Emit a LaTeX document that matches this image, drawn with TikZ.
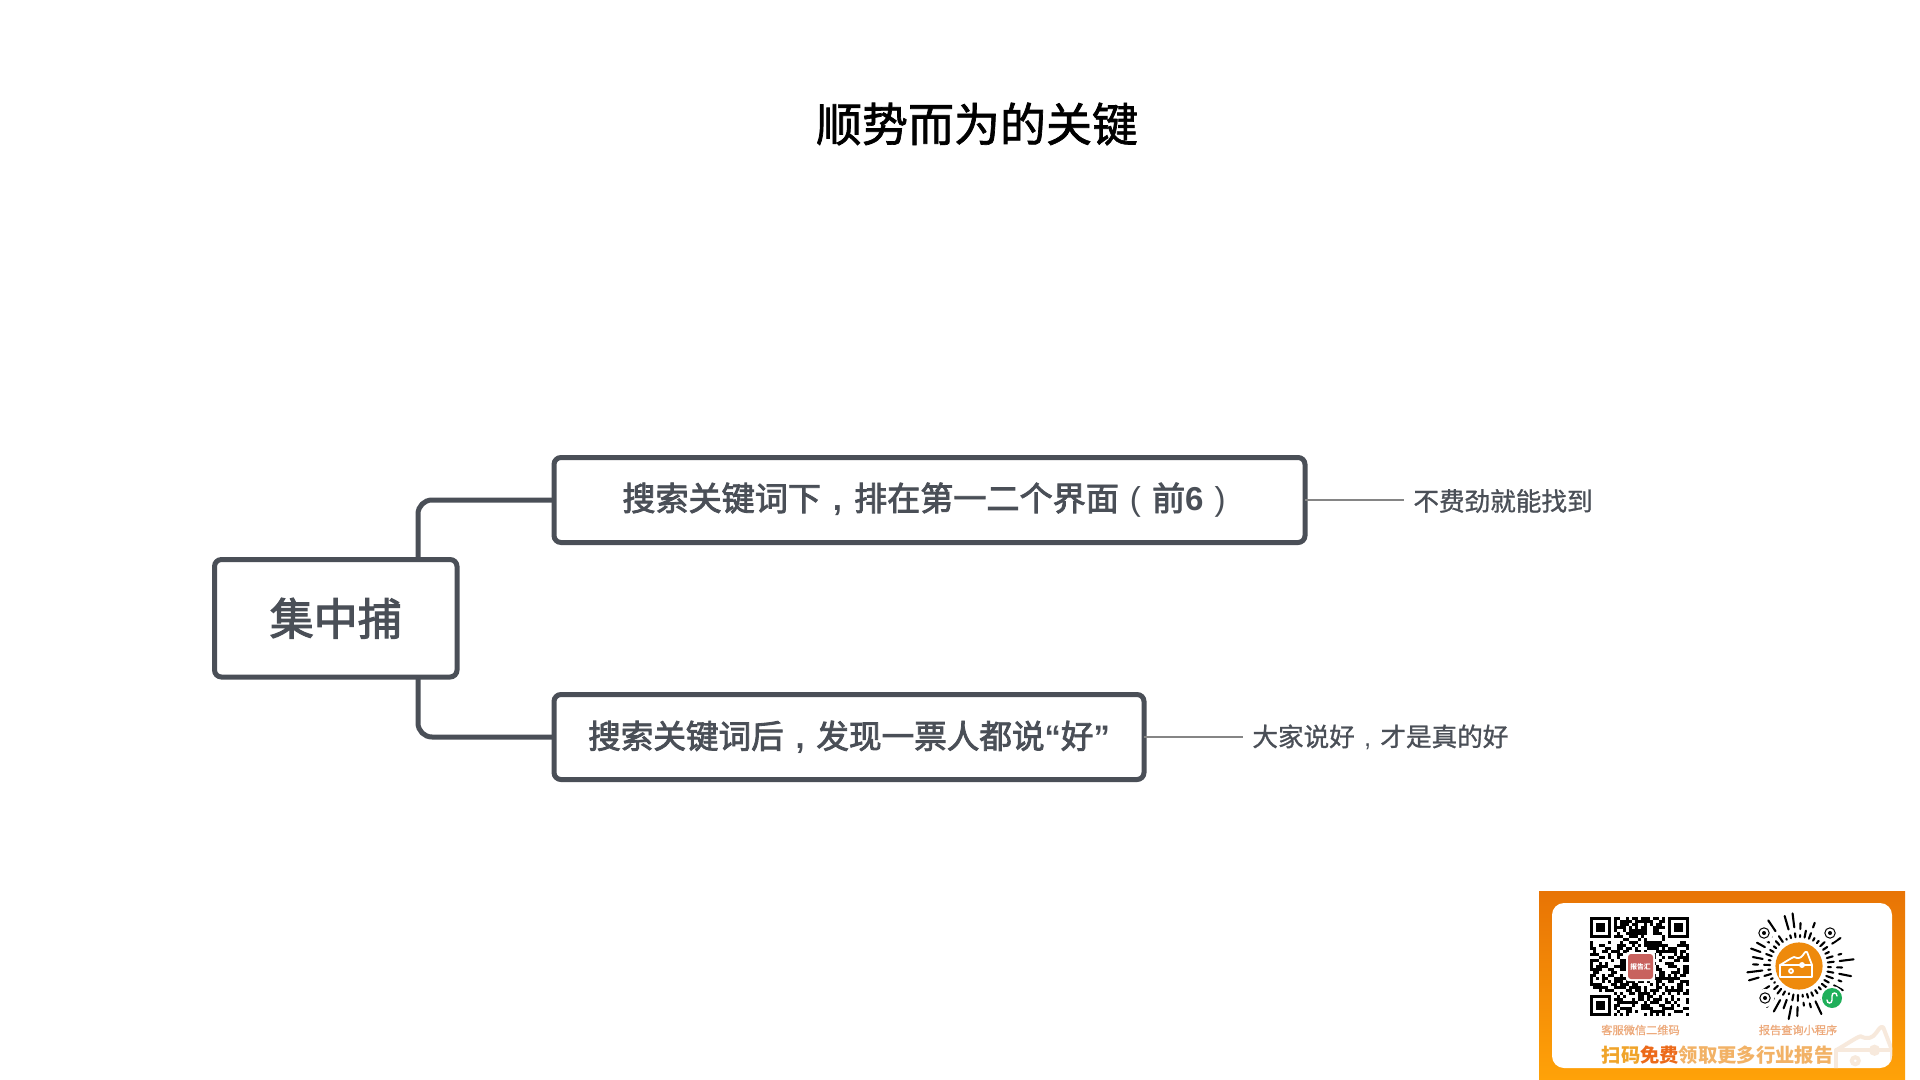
\documentclass[tikz,border=0pt]{standalone}
\usepackage{fontspec}
\setmainfont{Noto Sans CJK SC}
\newfontfamily\cjk{Noto Sans CJK SC}
\newfontfamily\cjktitle[FakeBold=1.5]{Noto Sans CJK SC}
\newfontfamily\cjkbox[FakeBold=2.5]{Noto Sans CJK SC}
\newfontfamily\cjknote[FakeBold=1]{Noto Sans CJK SC}
\newfontfamily\lat{Liberation Sans}
\usetikzlibrary{calc}
\definecolor{ink}{HTML}{4A4F57}
\definecolor{thin}{HTML}{858585}
\definecolor{capt}{HTML}{EDAA7C}
\definecolor{panelA}{HTML}{E87405}
\definecolor{panelB}{HTML}{FFA208}
\definecolor{orng}{HTML}{EE8A0C}
\definecolor{wm}{HTML}{F7E9DC}
\definecolor{qrred}{HTML}{C8625E}
\definecolor{minigreen}{HTML}{1FAF5A}
\newcommand{\cma}{\makebox[1em][c]{\lat\bfseries,}}
\newcommand{\plain}{\makebox[1em][c]{\lat,}}
\newcommand{\lpar}{\makebox[1em][c]{\lat(}}
\newcommand{\rpar}{\makebox[1em][c]{\lat)}}
\tikzset{
  mapbox/.style={draw=ink,line width=2.5pt,rounded corners=3.5pt,fill=white,inner sep=0pt,outer sep=0pt,text=ink},
  trunkline/.style={draw=ink,line width=2.5pt,rounded corners=7pt},
  subline/.style={draw=thin,line width=1.2pt},
  note/.style={text=ink,inner sep=0pt,font=\cjknote\fontsize{12.8}{15}\selectfont,anchor=west},
  caption/.style={text=capt,inner sep=0pt,font=\cjknote\fontsize{5.6}{7}\selectfont},
}
\newcommand{\cheese}[3]{% centre x, centre y, scale; drawn in current colour
  \begin{scope}[shift={(#1,#2)},x=#3*0.5pt,y=-#3*0.5pt]
    \draw[line join=round] (-16,-1) -- (-16,11) -- (16,11) -- (16,-1) -- cycle;
    \draw[line join=round] (-16,-1) .. controls (-9,-5) and (-5,-8) .. (-2,-9)
      .. controls (2,-7) and (5,-8) .. (7,-11) .. controls (9,-14) and (10,-15) .. (11,-14) -- (16,-1);
    \draw (-5,5) circle (2);
    \draw (6,-1) circle (2);
  \end{scope}}
\begin{document}
\begin{tikzpicture}[x=0.5pt,y=-0.5pt]
\useasboundingbox (0,0) rectangle (1920,1080);
\fill[white] (0,0) rectangle (1920,1080);

% title
\node[inner sep=0pt,text=black,font=\cjktitle\fontsize{23}{27}\selectfont] (title) at (977,124) {顺势而为的关键};

% map
\node[mapbox,minimum width=121.25pt,minimum height=58.75pt,font=\cjkbox\fontsize{22}{26}\selectfont] (root) at (335.75,618.25) {集中捕};
\node[mapbox,minimum width=375.5pt,minimum height=42.5pt,font=\cjkbox\fontsize{16.55}{19}\selectfont] (b1) at (929.5,500) {搜索关键词下\cma 排在第一二个界面\lpar 前{\lat\bfseries 6}\rpar};
\node[mapbox,minimum width=295pt,minimum height=42.5pt,font=\cjkbox\fontsize{16.3}{19}\selectfont] (b2) at (849,737) {搜索关键词后\cma 发现一票人都说{\lat\bfseries “}好{\lat\bfseries ”}};
\coordinate (trunk) at (418,0);
\coordinate (e1) at (1404,500);
\coordinate (e2) at (1243,737);
\draw[trunkline] (root.north -| trunk) |- (b1.west);
\draw[trunkline] (root.south -| trunk) |- (b2.west);
\draw[subline] (b1.east) -- (e1);
\draw[subline] (b2.east) -- (e2);
\node[note] (n1) at (1413,501) {不费劲就能找到};
\node[note] (n2) at (1252,737) {大家说好\plain 才是真的好};

% promo panel
\shade[top color=panelA,bottom color=panelB] (1539,891) rectangle (1905,1080);
\fill[white,rounded corners=6pt] (1552,903) rectangle (1892,1068);

% watermark
\begin{scope}
  \clip[rounded corners=6pt] (1552,903) rectangle (1892,1068);
  \begin{scope}[draw=wm,line width=2pt]
    \cheese{1864}{1052}{1.75}
  \end{scope}
\end{scope}

% QR code
\pgfmathsetseed{4711}
\begin{scope}[shift={(1590,917)}]
  \foreach \i in {0,...,32}{
    \foreach \j in {0,...,32}{
      \pgfmathrandominteger{\r}{0}{99}
      \pgfmathtruncatemacro{\skip}{((\i<8&&\j<8)||(\i>24&&\j<8)||(\i<8&&\j>24))?1:0}
      \ifnum\skip=0
        \ifnum\r<52
          \fill[black] (3*\i,3*\j) rectangle (3*\i+3.1,3*\j+3.1);
        \fi
      \fi
    }
  }
  \foreach \a/\b in {0/0,78/0,0/78}{
    \draw[black,line width=1.5pt] (\a+1.5,\b+1.5) rectangle (\a+19.5,\b+19.5);
    \fill[black] (\a+6,\b+6) rectangle (\a+15,\b+15);
  }
\end{scope}
\fill[white,rounded corners=1pt] (1626,952) rectangle (1655,981);
\node[fill=qrred,rounded corners=1.5pt,minimum size=12.5pt,inner sep=0pt,text=white,font=\cjk\bfseries\fontsize{3.4}{4}\selectfont] (qrlogo) at (1640.5,966.5) {报告汇};

% mini program code
\coordinate (mc) at (1799,966);
\pgfmathsetseed{271}
\foreach \k in {0,...,39}{
  \pgfmathsetmacro{\ang}{\k*9+2}
  \pgfmathrandominteger{\ra}{1}{7}
  \pgfmathrandominteger{\rb}{0}{9}
  \pgfmathrandominteger{\rc}{3}{16}
  \pgfmathsetmacro{\ri}{29}
  \pgfmathsetmacro{\ro}{\ri+\ra}
  \pgfmathsetmacro{\si}{\ro+6}
  \pgfmathsetmacro{\so}{min(\si+\rc,55)}
  \draw[black,line width=1.05pt,line cap=round] ($(mc)+(\ang:\ri)$) -- ($(mc)+(\ang:\ro)$);
  \ifnum\rb>1
    \draw[black,line width=1.05pt,line cap=round] ($(mc)+(\ang:\si)$) -- ($(mc)+(\ang:\so)$);
  \fi
}
\foreach \fx/\fy in {1764/933,1830/933,1765/998}{
  \fill[white] (\fx,\fy) circle (4.6pt);
  \draw[black,line width=0.5pt] (\fx,\fy) circle (2.6pt);
  \fill[black] (\fx,\fy) circle (1pt);
}
\fill[orng] (mc) circle (11.8pt);
\begin{scope}[draw=white,line width=0.9pt]
  \cheese{1796}{966}{1}
\end{scope}
\fill[white] (1832,998) circle (6pt);
\fill[minigreen] (1832,998) circle (5pt);
\draw[white,line width=0.7pt,line cap=round] (1827,1000) .. controls (1827,1004) and (1832,1004) .. (1832,1000) -- (1832,996) .. controls (1832,992) and (1837,992) .. (1837,996);

% captions
\node[caption] (c1) at (1640.5,1030) {客服微信二维码};
\node[caption] (c2) at (1798,1030) {报告查询小程序};
\node[inner sep=0pt,font=\cjk\bfseries\fontsize{9.65}{12}\selectfont] (c3) at (1717.5,1055) {\textcolor[HTML]{F0A42A}{扫码}\textcolor[HTML]{EC6A1A}{免费}\textcolor[HTML]{F2B266}{领取更多行业报告}};
\end{tikzpicture}
\end{document}
